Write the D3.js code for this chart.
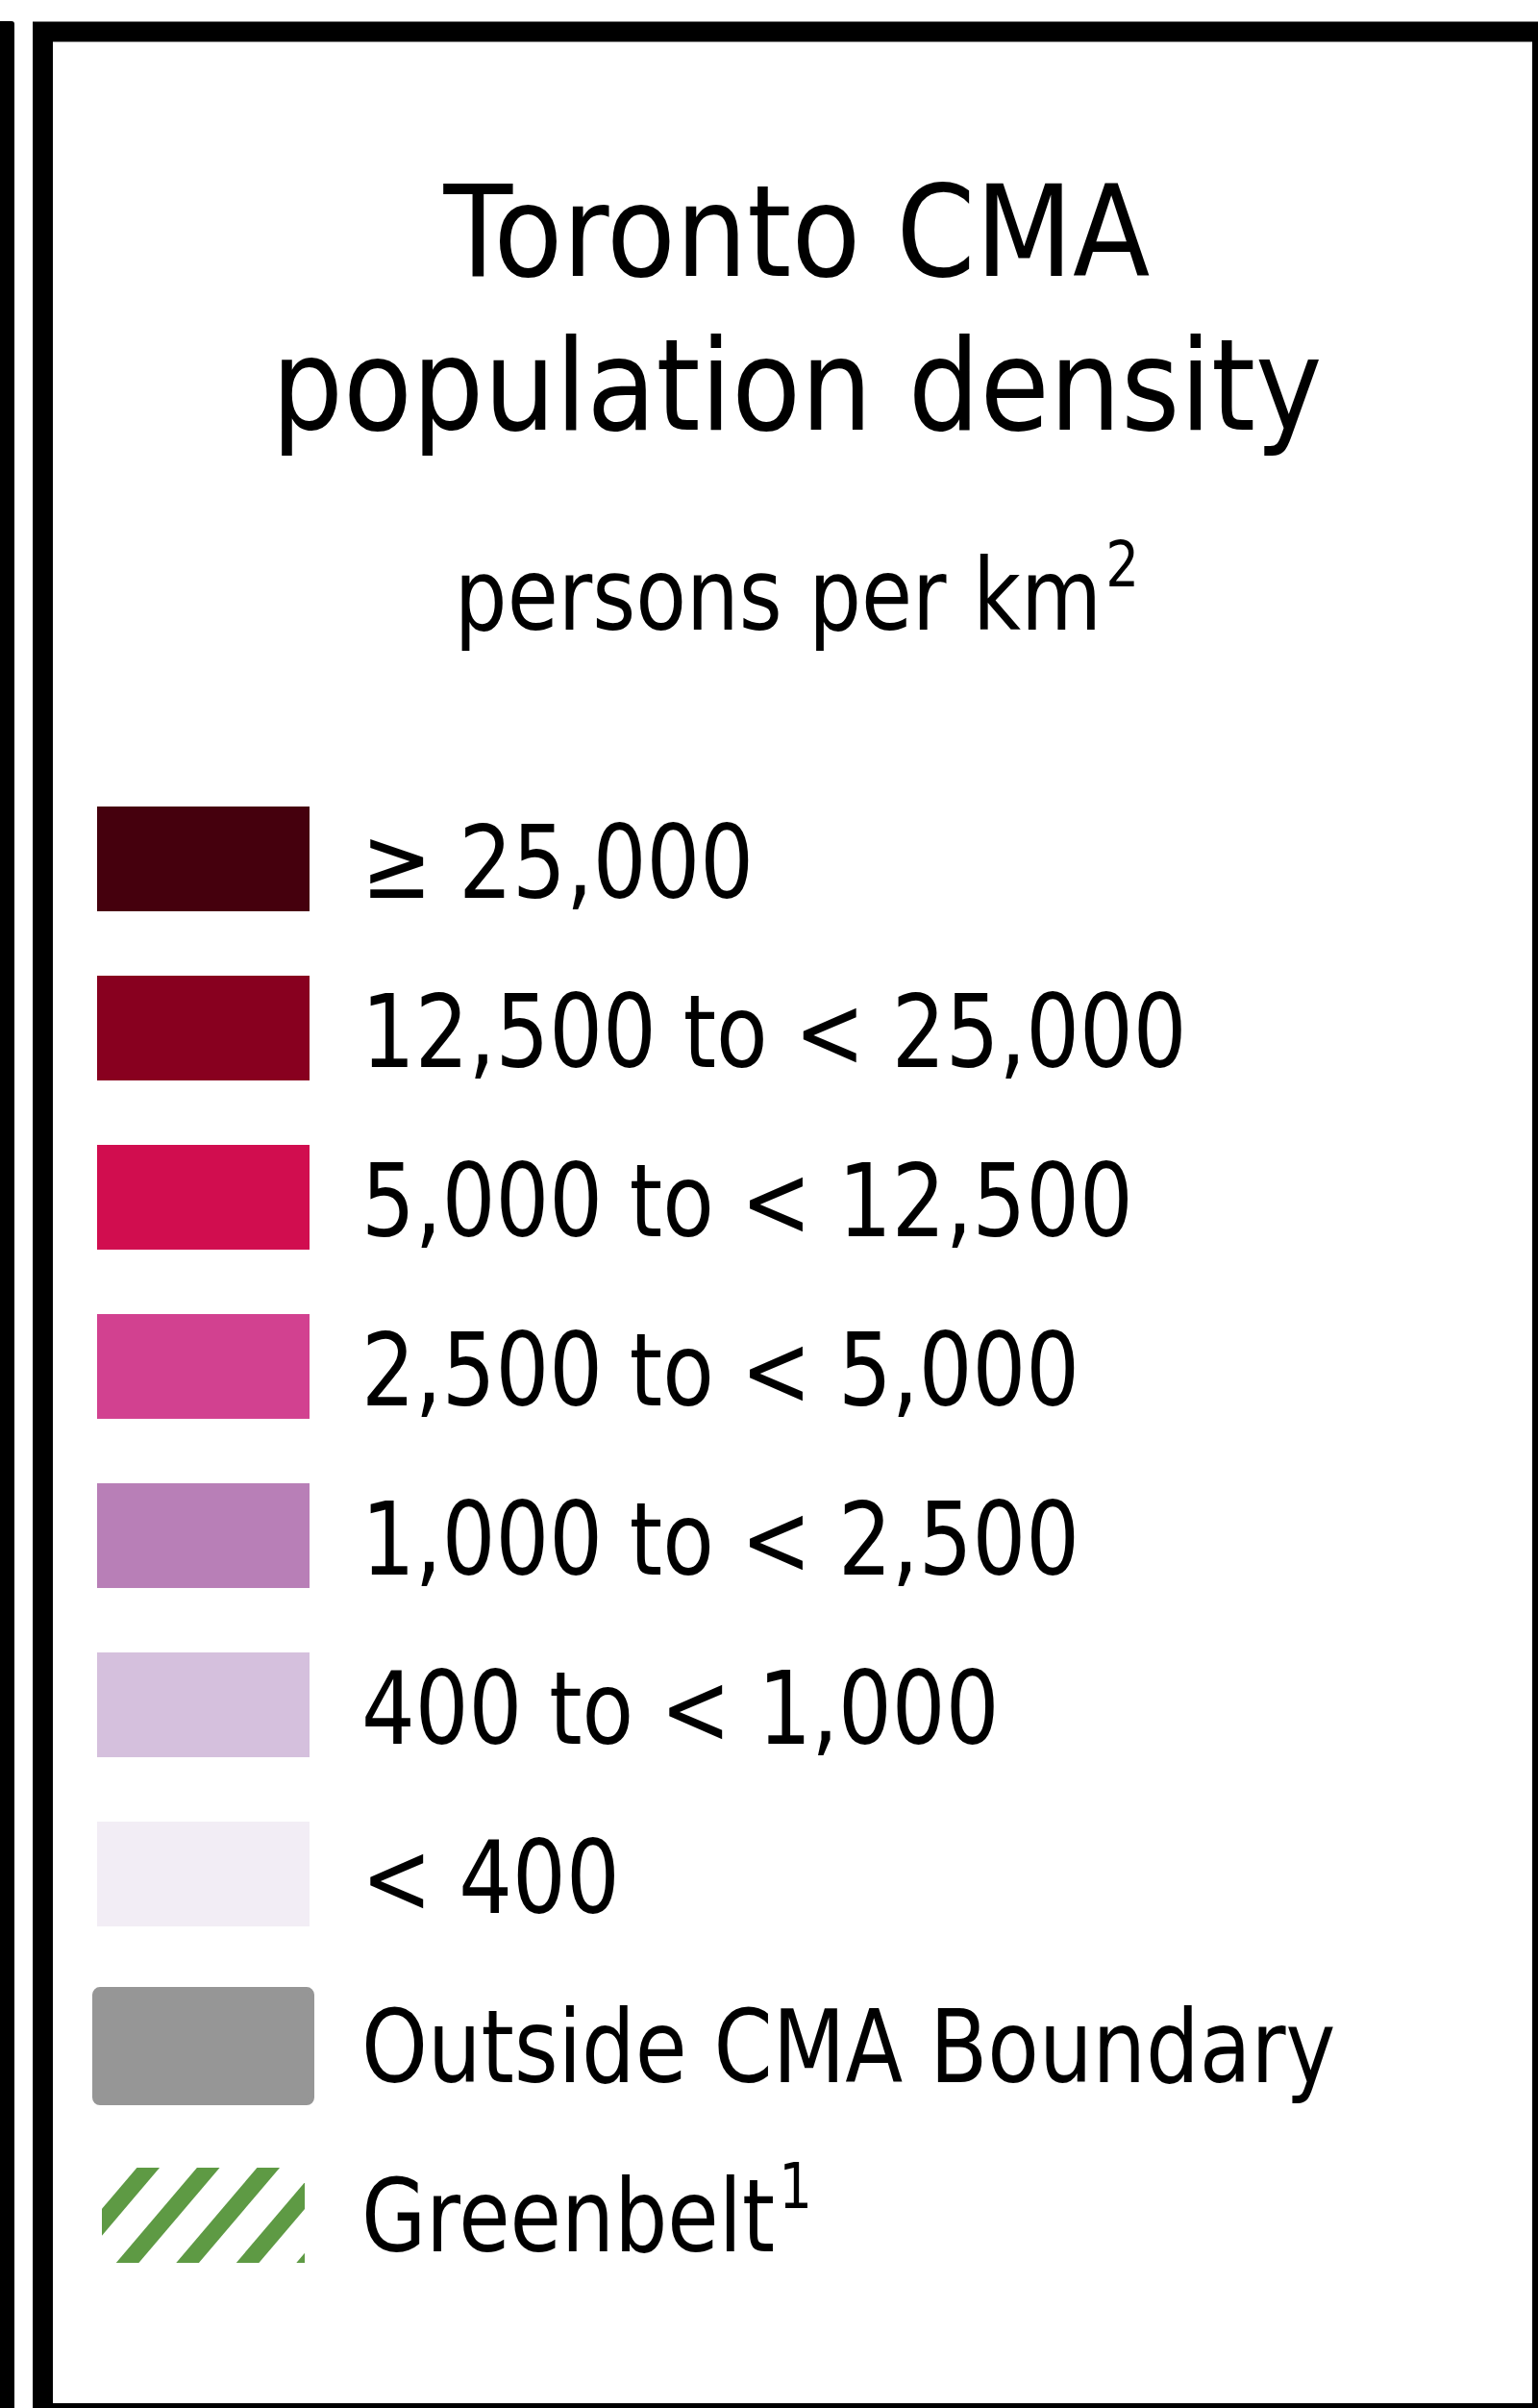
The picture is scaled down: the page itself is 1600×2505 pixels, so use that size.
<!DOCTYPE html>
<html>
<head>
<meta charset="utf-8">
<script src="https://cdn.jsdelivr.net/npm/d3@7"></script>
<style>
  body { margin: 0; background: #fff; }
  text { font-family: "DejaVu Sans", Verdana, sans-serif; fill: #000; }
</style>
</head>
<body>
<div id="legend"></div>
<script>
// legend content
const titleLines = ["Toronto CMA", "population density"];
const unitText = "persons per km";
const unitSup = "2";

const classLabels = [
    "\u2265 25,000",
    "12,500 to < 25,000",
    "5,000 to < 12,500",
    "2,500 to < 5,000",
    "1,000 to < 2,500",
    "400 to < 1,000",
    "< 400"
];
const classColors = ["#45000d", "#88001f", "#d10d4f", "#d24190", "#b87fb7", "#d5c0dd", "#f2edf5"];

const outsideLabel = "Outside CMA Boundary";
const outsideColor = "#969696";
const greenbeltLabel = "Greenbelt";
const greenbeltSup = "1";
const greenbeltColor = "#5e9a44";

const width = 1600, height = 2505;
const centerX = 829;

let svg = d3.select("#legend").append("svg")
    .attr("width", width)
    .attr("height", height);

svg.append("rect").attr("width", width).attr("height", height).attr("fill", "#fff");

// squeeze DejaVu a bit so it runs about as wide as the narrow original face
function condense(sel, factor) {
    sel.each(function () {
        let len = this.getComputedTextLength();
        d3.select(this)
            .attr("textLength", len * factor)
            .attr("lengthAdjust", "spacingAndGlyphs");
        this.__len = len * factor;
    });
}

// text with a raised small tspan (km2, footnote mark)
function withSup(sel, main, sup) {
    sel.append("tspan").text(main);
    sel.append("tspan")
        .attr("dx", 5)
        .attr("dy", -45)
        .style("font-size", "66px")
        .text(sup);
}

// frames: edge of the neighbouring panel and the legend box
svg.append("rect")
    .attr("x", -20).attr("y", 22)
    .attr("width", 35).attr("height", height)
    .attr("rx", 3)
    .attr("fill", "#000");

svg.append("rect")
    .attr("x", 44.5).attr("y", 33)
    .attr("width", 1560).attr("height", 2477.5)
    .attr("fill", "none")
    .attr("stroke", "#000")
    .attr("stroke-width", 21);

// title
let titleY = d3.scalePoint().domain(titleLines).range([287, 447]);

svg.selectAll("text.title")
    .data(titleLines)
    .enter()
    .append("text")
    .attr("class", "title")
    .attr("y", d => titleY(d))
    .style("font-size", "132px")
    .text(d => d)
    .call(condense, 0.89)
    .attr("x", function () { return centerX - this.__len / 2; });

// units line
let unit = svg.append("text")
    .attr("y", 655)
    .style("font-size", "104px")
    .call(withSup, unitText, unitSup)
    .call(condense, 0.835);
unit.attr("x", centerX - unit.node().__len / 2);

// legend rows
let rows = classLabels.concat([outsideLabel, greenbeltLabel]);
let y = d3.scaleBand()
    .domain(d3.range(rows.length))
    .range([839, 2356])
    .paddingInner(0.381)
    .paddingOuter(0);

let swatchX = 101, swatchW = 221, labelX = 376;

svg.selectAll("rect.swatch")
    .data(classColors)
    .enter()
    .append("rect")
    .attr("class", "swatch")
    .attr("x", swatchX)
    .attr("y", (d, i) => y(i))
    .attr("width", swatchW)
    .attr("height", y.bandwidth())
    .attr("fill", d => d);

// outside boundary swatch, slightly bigger with soft corners
svg.append("rect")
    .attr("x", swatchX - 2)
    .attr("y", y(7) - 1)
    .attr("width", swatchW + 4)
    .attr("height", y.bandwidth() + 8)
    .attr("rx", 5)
    .attr("fill", outsideColor)
    .attr("stroke", outsideColor)
    .attr("stroke-width", 6)
    .attr("stroke-linejoin", "round");

// greenbelt hatch
let hatchTop = y(8) + 8, hatchBottom = y(8) + y.bandwidth() - 2;
svg.append("clipPath").attr("id", "hatch-clip")
    .append("rect")
    .attr("x", 106).attr("y", hatchTop)
    .attr("width", 211).attr("height", hatchBottom - hatchTop);

let hatch = svg.append("g").attr("clip-path", "url(#hatch-clip)");
let slant = 0.85, period = 62.5, firstX = 154.2;
hatch.selectAll("line")
    .data(d3.range(-2, 6))
    .enter()
    .append("line")
    .attr("x1", k => firstX + period * k + slant * 60)
    .attr("y1", hatchTop - 60)
    .attr("x2", k => firstX + period * k - slant * 160)
    .attr("y2", hatchTop + 160)
    .attr("stroke", greenbeltColor)
    .attr("stroke-width", 18);

// labels
let labelBase = i => y(i) + 95;

svg.selectAll("text.label")
    .data(d3.range(rows.length))
    .enter()
    .append("text")
    .attr("class", "label")
    .attr("x", labelX)
    .attr("y", labelBase)
    .style("font-size", "105px")
    .each(function (i) {
        if (i === rows.length - 1) d3.select(this).call(withSup, rows[i], greenbeltSup);
        else d3.select(this).text(rows[i]);
    })
    .call(condense, 0.835);
</script>
</body>
</html>
